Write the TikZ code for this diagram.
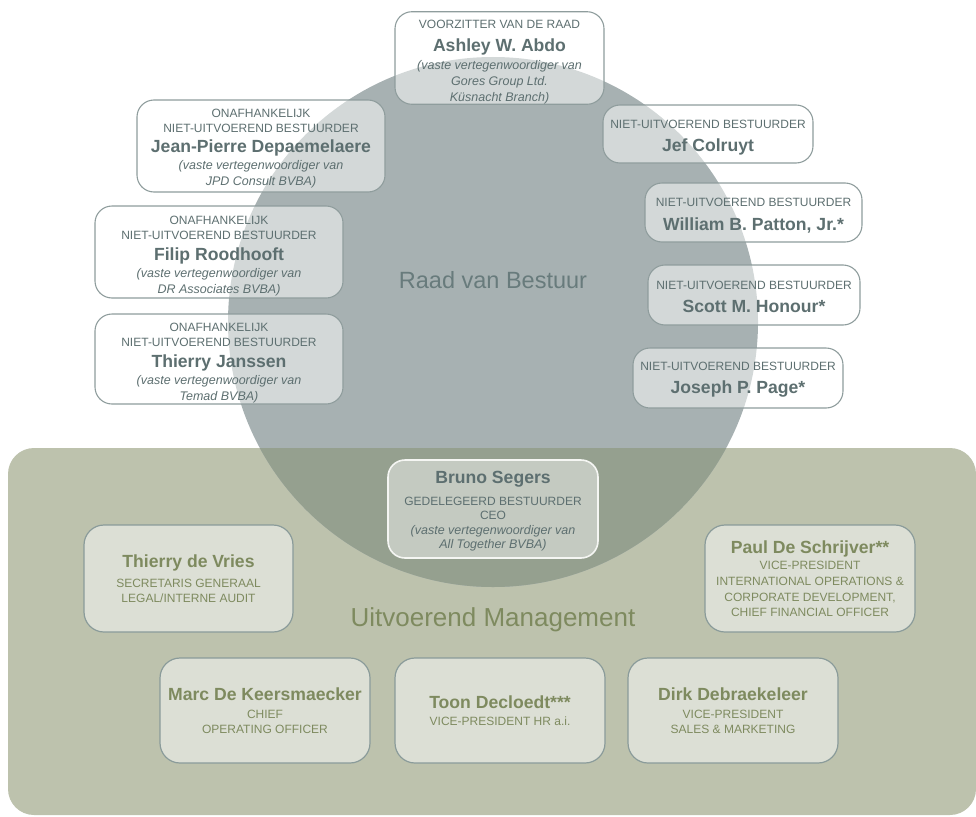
\documentclass[tikz,border=0pt]{standalone}
\usepackage{fontspec}
\setmainfont{Liberation Sans}
\usepackage{tikz}
\usetikzlibrary{positioning}
\usepackage{xcolor}

\definecolor{mgmtgreen}{HTML}{BDC2AD}
\definecolor{boardgray}{HTML}{A7B1B2}
\definecolor{circlegreen}{HTML}{95A08F}
\definecolor{boardline}{HTML}{8F9D9D}
\definecolor{boardtext}{HTML}{5D6F70}
\definecolor{titlegray}{HTML}{687B7C}
\definecolor{mgmttext}{HTML}{7E8A5F}
\definecolor{execfill}{HTML}{DCDFD5}
\definecolor{execline}{HTML}{8A9B9A}

\newcommand{\rolef}{\fontsize{12}{15}\selectfont}
\newcommand{\namef}{\fontsize{17.6}{15}\selectfont\bfseries}
\newcommand{\notef}{\fontsize{12.5}{15}\selectfont\itshape}
\newcommand{\padtop}[1]{\rule{0pt}{#1}}

\begin{document}
\begin{tikzpicture}[x=1pt,y=-1pt,
  boardbox/.style={draw=boardline, line width=1.1pt, rounded corners=17pt,
    fill=white, fill opacity=0.5, text opacity=1, text=boardtext, align=center,
    inner sep=0pt, font=\fontsize{12}{15}\selectfont},
  ceobox/.style={draw=white!85!mgmtgreen, line width=1.6pt, rounded corners=17pt,
    fill=white, fill opacity=0.45, text opacity=1, text=boardtext, align=center,
    inner sep=0pt, font=\fontsize{12}{15}\selectfont},
  execbox/.style={draw=execline, line width=1.2pt, rounded corners=20pt,
    fill=execfill, text=mgmttext, align=center, inner sep=0pt,
    font=\fontsize{12}{15}\selectfont}]

\useasboundingbox (0,0) rectangle (976,816);

% background
\fill[mgmtgreen, rounded corners=26pt] (8,448) rectangle (976,815);
\fill[boardgray] (493,322) circle [radius=265pt];
\begin{scope}
\clip[rounded corners=26pt] (8,448) rectangle (976,815);
\fill[circlegreen] (493,322) circle [radius=265pt];
\end{scope}

% titles
\node[text=titlegray, font=\fontsize{23.5}{26}\selectfont] (raad) at (493,280) {Raad van Bestuur};
\node[text=mgmttext, font=\fontsize{26}{30}\selectfont] (mgmt) at (493,620) {Uitvoerend Management};

% raad van bestuur
{
\node[boardbox, minimum width=209pt, minimum height=92pt] (abdo) at (499.5,58)
  {\padtop{17pt}{\rolef VOORZITTER VAN DE RAAD}\\[8pt] {\namef Ashley W. Abdo}\\[3pt] {\notef (vaste vertegenwoordiger van}\\[1pt] {\notef Gores Group Ltd.}\\[1pt] {\notef Küsnacht Branch)}};
\node[boardbox, minimum width=248pt, minimum height=92pt] (depaemelaere) at (261,146)
  {\padtop{14pt}{\rolef ONAFHANKELIJK}\\ {\rolef NIET-UITVOEREND BESTUURDER}\\[5pt] {\namef Jean-Pierre Depaemelaere}\\[2pt] {\notef (vaste vertegenwoordiger van}\\[1pt] {\notef JPD Consult BVBA)}};
\node[boardbox, minimum width=248pt, minimum height=92pt] (roodhooft) at (219,252)
  {\padtop{17pt}{\rolef ONAFHANKELIJK}\\ {\rolef NIET-UITVOEREND BESTUURDER}\\[6pt] {\namef Filip Roodhooft}\\[2pt] {\notef (vaste vertegenwoordiger van}\\[1pt] {\notef DR Associates BVBA)}};
\node[boardbox, minimum width=248pt, minimum height=90pt] (janssen) at (219,359)
  {\padtop{17pt}{\rolef ONAFHANKELIJK}\\ {\rolef NIET-UITVOEREND BESTUURDER}\\[6pt] {\namef Thierry Janssen}\\[2pt] {\notef (vaste vertegenwoordiger van}\\[1pt] {\notef Temad BVBA)}};

\node[boardbox, minimum width=210pt, minimum height=58pt] (colruyt) at (708,134)
  {\padtop{16pt}{\rolef NIET-UITVOEREND BESTUURDER}\\[8pt] {\namef Jef Colruyt}};
\node[boardbox, minimum width=217pt, minimum height=59pt] (patton) at (753.5,212.5)
  {\padtop{14pt}{\rolef NIET-UITVOEREND BESTUURDER}\\[9pt] {\namef William B. Patton, Jr.*}};
\node[boardbox, minimum width=212pt, minimum height=60pt] (honour) at (754,295)
  {\padtop{12pt}{\rolef NIET-UITVOEREND BESTUURDER}\\[8pt] {\namef Scott M. Honour*}};
\node[boardbox, minimum width=210pt, minimum height=60pt] (page) at (738,378)
  {\padtop{12pt}{\rolef NIET-UITVOEREND BESTUURDER}\\[8pt] {\namef Joseph P. Page*}};
}

% uitvoerend management
{
\node[ceobox, minimum width=210pt, minimum height=98pt] (segers) at (493,509)
  {\padtop{17pt}{\namef Bruno Segers}\\[7pt] {\rolef GEDELEGEERD BESTUURDER}\\[-1pt] {\rolef CEO}\\ {\notef (vaste vertegenwoordiger van}\\[-1pt] {\notef All Together BVBA)}};

\node[execbox, minimum width=209pt, minimum height=107pt] (devries) at (188.5,578.5)
  {{\namef Thierry de Vries}\\[5pt] {\rolef SECRETARIS GENERAAL}\\ {\rolef LEGAL/INTERNE AUDIT}};
\node[execbox, minimum width=210pt, minimum height=107pt] (deschrijver) at (810,578.5)
  {{\namef Paul De Schrijver**}\\[1pt] {\rolef VICE-PRESIDENT}\\[1pt] {\rolef INTERNATIONAL OPERATIONS \&}\\[1pt] {\rolef CORPORATE DEVELOPMENT,}\\ {\rolef CHIEF FINANCIAL OFFICER}};

\node[execbox, minimum width=210pt, minimum height=105pt] (dekeersmaecker) at (265,710.5)
  {{\namef Marc De Keersmaecker}\\[3pt] {\rolef CHIEF}\\ {\rolef OPERATING OFFICER}};
\node[execbox, minimum width=210pt, minimum height=105pt] (decloedt) at (500,710.5)
  {{\namef Toon Decloedt***}\\[2pt] {\rolef VICE-PRESIDENT HR a.i.}};
\node[execbox, minimum width=210pt, minimum height=105pt] (debraekeleer) at (733,710.5)
  {{\namef Dirk Debraekeleer}\\[3pt] {\rolef VICE-PRESIDENT}\\ {\rolef SALES \& MARKETING}};
}

\end{tikzpicture}
\end{document}
